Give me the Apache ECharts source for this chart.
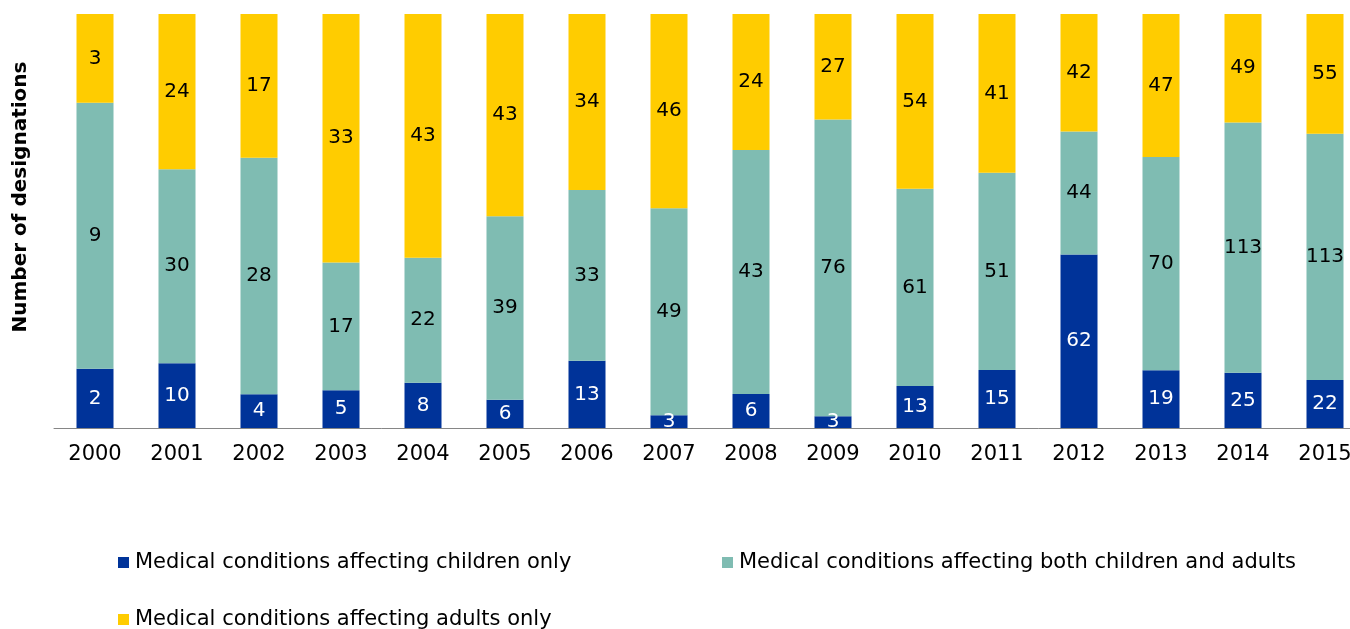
<!DOCTYPE html>
<html>
<head>
<meta charset="utf-8">
<script src="https://cdn.jsdelivr.net/npm/echarts@6/dist/echarts.min.js"></script>
<style>html,body{margin:0;padding:0;background:#fff;overflow:hidden}#c{width:1366px;height:629px}</style>
</head>
<body>
<div id="c"></div>
<script>
const years = ['2000','2001','2002','2003','2004','2005','2006','2007','2008','2009','2010','2011','2012','2013','2014','2015'];
const childrenOnly = [2,10,4,5,8,6,13,3,6,3,13,15,62,19,25,22];
const bothGroups = [9,30,28,17,22,39,33,49,43,76,61,51,44,70,113,113];
const adultsOnly = [3,24,17,33,43,43,34,46,24,27,54,41,42,47,49,55];
const seriesNames = ['Medical conditions affecting children only','Medical conditions affecting both children and adults','Medical conditions affecting adults only'];
const yTitle = 'Number of designations';

const totals = years.map((_, i) => childrenOnly[i] + bothGroups[i] + adultsOnly[i]);
function pct(arr){ return arr.map((v,i) => ({value: v / totals[i] * 100, raw: v})); }

const FONT = '"DejaVu Sans", Verdana, sans-serif';
const colors = ['#003399', '#7FBCB2', '#FFCC00'];
const labelColors = ['#ffffff', '#000000', '#000000'];
const raws = [childrenOnly, bothGroups, adultsOnly];

const chart = echarts.init(document.getElementById('c'));
chart.setOption({
  animation: false,
  grid: {left: 54, top: 14, right: 0, height: 414, containLabel: false},
  xAxis: {
    type: 'category', data: years,
    axisLine: {lineStyle: {color: '#868686', width: 1}},
    axisTick: {length: 6, lineStyle: {color: '#868686'}},
    axisLabel: {color: '#000', fontFamily: FONT, fontSize: 21, margin: 16}
  },
  yAxis: {
    type: 'value', min: 0, max: 100,
    show: false
  },
  graphic: [{
    type: 'text', x: 21, y: 197, rotation: Math.PI / 2,
    style: {text: yTitle, font: 'bold 20px ' + FONT, fill: '#000', align: 'center', verticalAlign: 'middle'}
  }],
  legend: [0,1,2].map(i => ({
    data: [seriesNames[i]],
    left: [113, 717, 113][i], top: [547, 547, 604][i],
    icon: 'rect', itemWidth: 11, itemHeight: 11, itemGap: 0,
    textStyle: {fontFamily: FONT, fontSize: 21, color: '#000', padding: [0,0,0,1]}
  })),
  series: [0,1,2].map(i => ({
    name: seriesNames[i], type: 'bar', stack: 'total',
    barWidth: 37,
    data: pct(raws[i]),
    itemStyle: {color: colors[i]},
    label: {
      show: true, position: 'inside', color: labelColors[i],
      fontFamily: FONT, fontSize: 20,
      formatter: p => p.data.raw
    }
  }))
});
</script>
</body>
</html>
